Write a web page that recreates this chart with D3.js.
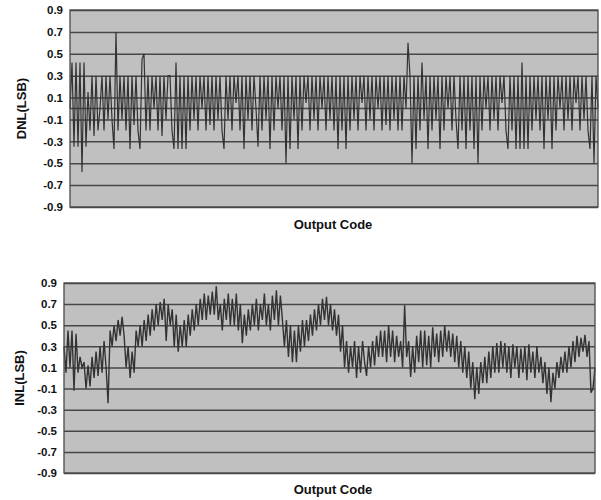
<!DOCTYPE html>
<html>
<head>
<meta charset="utf-8">
<script src="https://cdn.jsdelivr.net/npm/d3@7"></script>
<style>
  html, body { margin: 0; padding: 0; background: #fff; }
  svg text { font-family: "Liberation Sans", Arial, sans-serif; font-weight: bold; fill: #111; }
</style>
</head>
<body>
<svg id="chart" width="601" height="500"></svg>
<script>
// ---- data ----
const yTicks = [0.9, 0.7, 0.5, 0.3, 0.1, -0.1, -0.3, -0.5, -0.7, -0.9];
const yTickLabels = ["0.9", "0.7", "0.5", "0.3", "0.1", "-0.1", "-0.3", "-0.5", "-0.7", "-0.9"];
const dnlTitle = "DNL(LSB)";
const inlTitle = "INL(LSB)";
const xTitle = "Output Code";

const dnl = [
  0.0, 0.42, -0.35, 0.42, -0.35, 0.42, -0.58, 0.42, -0.35, 0.15,
  -0.2, 0.3, -0.25, 0.3, -0.2, 0.0, 0.3, -0.2, 0.3, -0.1,
  0.3, -0.1, -0.37, 0.7, -0.2, 0.3, -0.1, 0.3, -0.2, 0.3,
  -0.37, 0.3, -0.15, 0.3, -0.2, -0.37, 0.45, 0.5, -0.2, 0.3,
  -0.2, 0.3, 0.0, 0.3, -0.2, 0.3, -0.25, 0.3, -0.1, 0.3,
  0.3, -0.2, -0.37, 0.42, -0.37, 0.3, -0.37, 0.3, -0.37, 0.3,
  -0.2, 0.3, -0.1, 0.3, -0.2, 0.3, 0.0, 0.3, -0.2, 0.3,
  -0.15, 0.3, -0.2, 0.3, -0.1, 0.3, -0.2, -0.37, 0.3, -0.1,
  0.3, -0.2, 0.3, 0.05, 0.3, -0.2, 0.3, -0.37, 0.3, -0.1,
  0.3, -0.2, 0.3, 0.0, -0.35, 0.3, -0.2, 0.3, -0.1, 0.3,
  -0.37, 0.3, -0.2, 0.3, 0.0, 0.3, -0.2, 0.3, -0.5, 0.3,
  -0.37, 0.3, -0.1, 0.3, -0.37, 0.3, -0.2, 0.3, 0.05, 0.3,
  -0.2, 0.3, -0.1, 0.3, -0.2, 0.3, 0.0, 0.3, -0.2, 0.3,
  -0.1, 0.3, -0.2, 0.3, -0.37, 0.3, -0.2, 0.3, -0.37, 0.3,
  -0.2, 0.3, -0.1, 0.3, -0.2, 0.3, 0.05, 0.3, -0.2, 0.3,
  -0.1, 0.3, -0.2, 0.3, 0.0, 0.3, -0.2, 0.3, -0.15, 0.3,
  -0.2, 0.3, -0.1, 0.3, -0.2, 0.3, -0.2, 0.3, 0.0, 0.6,
  0.3, -0.5, 0.3, -0.37, 0.3, -0.2, 0.42, -0.1, 0.3, -0.37,
  0.3, -0.2, 0.3, -0.1, 0.3, -0.37, 0.3, -0.2, 0.3, 0.0,
  0.3, -0.2, 0.3, -0.1, -0.37, 0.3, -0.2, 0.3, -0.37, 0.3,
  -0.2, 0.3, -0.37, 0.3, -0.5, 0.3, -0.2, 0.3, 0.0, 0.3,
  -0.2, 0.3, -0.1, 0.3, -0.2, 0.3, 0.05, 0.3, -0.2, -0.37,
  0.3, -0.2, 0.3, -0.37, 0.3, -0.37, 0.42, -0.37, 0.3, -0.37,
  0.3, -0.2, 0.3, -0.1, 0.3, -0.2, 0.3, -0.37, 0.3, -0.1,
  0.3, -0.37, 0.3, -0.2, 0.3, 0.0, 0.3, -0.2, 0.3, -0.1,
  0.3, -0.2, 0.3, 0.05, 0.3, -0.2, 0.3, -0.1, 0.3, -0.2,
  -0.37, 0.3, -0.5, 0.3, 0.0
];

const inl = [
  0.3, 0.05, 0.45, 0.1, 0.45, -0.12, 0.42, 0.05, 0.2, 0.1,
  0.15, -0.1, 0.12, -0.08, 0.2, 0.0, 0.25, 0.02, 0.3, 0.05,
  0.35, 0.1, -0.24, 0.45, 0.3, 0.5, 0.35, 0.55, 0.4, 0.58,
  0.4, 0.1, 0.3, 0.0, 0.25, 0.05, 0.45, 0.3, 0.5, 0.3,
  0.55, 0.35, 0.6, 0.4, 0.65, 0.45, 0.7, 0.5, 0.72, 0.55,
  0.75, 0.35, 0.7, 0.5, 0.65, 0.3, 0.6, 0.25, 0.5, 0.3,
  0.55, 0.3, 0.6, 0.4, 0.65, 0.45, 0.7, 0.5, 0.75, 0.55,
  0.8, 0.55, 0.78, 0.6, 0.82, 0.6, 0.87, 0.55, 0.7, 0.45,
  0.75, 0.55, 0.8, 0.5, 0.75, 0.5, 0.8, 0.45, 0.7, 0.33,
  0.6, 0.4, 0.65, 0.45, 0.7, 0.5, 0.75, 0.45, 0.7, 0.55,
  0.8, 0.5, 0.7, 0.45, 0.78, 0.55, 0.83, 0.5, 0.78, 0.55,
  0.3, 0.55, 0.2, 0.5, 0.15, 0.45, 0.15, 0.5, 0.25, 0.55,
  0.3, 0.55, 0.35, 0.6, 0.4, 0.65, 0.45, 0.7, 0.5, 0.75,
  0.55, 0.77, 0.5, 0.7, 0.45, 0.65, 0.4, 0.6, 0.25, 0.5,
  0.1, 0.35, 0.05, 0.3, 0.1, 0.35, 0.0, 0.3, 0.05, 0.35,
  0.15, 0.02, 0.3, 0.1, 0.35, 0.12, 0.4, 0.2, 0.45, 0.2,
  0.45, 0.15, 0.5, 0.2, 0.45, 0.15, 0.4, 0.2, 0.35, 0.1,
  0.69, 0.2, 0.35, 0.01, 0.3, 0.05, 0.4, 0.15, 0.45, 0.1,
  0.45, 0.12, 0.4, 0.1, 0.48, 0.2, 0.42, 0.15, 0.45, 0.2,
  0.5, 0.25, 0.45, 0.2, 0.42, 0.15, 0.4, 0.1, 0.35, 0.05,
  0.3, 0.0, 0.25, -0.1, 0.15, -0.2, 0.1, -0.15, 0.15, -0.05,
  0.2, -0.05, 0.25, 0.0, 0.3, 0.05, 0.33, 0.05, 0.35, 0.1,
  0.33, 0.05, 0.3, 0.0, 0.32, 0.1, 0.3, 0.0, 0.28, 0.05,
  0.3, -0.02, 0.32, 0.05, 0.25, 0.0, 0.3, 0.05, 0.2, -0.05,
  0.15, -0.15, 0.1, -0.23, 0.05, -0.1, 0.15, 0.0, 0.2, 0.05,
  0.25, 0.05, 0.3, 0.1, 0.35, 0.15, 0.4, 0.2, 0.38, 0.25,
  0.41, 0.2, 0.35, -0.14, -0.1, 0.1
];

// ---- drawing ----
const svg = d3.select("#chart");

function panel(cfg) {
  const { data, left, right, top, bottom, title, zeroLine, titleY, yTitleX, lineW } = cfg;
  const g = svg.append("g");
  const x = d3.scaleLinear().domain([0, data.length - 1]).range([left, right]);
  const y = d3.scaleLinear().domain([-0.9, 0.9]).range([bottom, top]);

  g.append("rect")
    .attr("x", left).attr("y", top)
    .attr("width", right - left).attr("height", bottom - top)
    .attr("fill", "#c0c0c0");

  // grid lines
  const grid = g.append("g")
    .attr("transform", `translate(${left},0)`)
    .call(d3.axisLeft(y).tickValues(yTicks).tickSize(-(right - left)).tickFormat(""));
  grid.select(".domain").remove();
  grid.selectAll(".tick line").attr("stroke", "#474747").attr("stroke-width", 1.5);

  if (zeroLine) {
    g.append("line")
      .attr("x1", left).attr("x2", right)
      .attr("y1", y(0)).attr("y2", y(0))
      .attr("stroke", "#474747").attr("stroke-width", 1.5);
  }

  // data line
  g.append("path")
    .datum(data)
    .attr("fill", "none")
    .attr("stroke", "#333")
    .attr("stroke-width", lineW)
    .attr("stroke-linejoin", "miter")
    .attr("d", d3.line().x((d, i) => x(i)).y(d => y(d)));

  // frame
  g.append("rect")
    .attr("x", left).attr("y", top)
    .attr("width", right - left).attr("height", bottom - top)
    .attr("fill", "none").attr("stroke", "#4a4a4a").attr("stroke-width", 1.3);

  // y axis labels
  const ax = g.append("g")
    .attr("transform", `translate(${left - 7},0)`)
    .call(d3.axisLeft(y).tickValues(yTicks).tickSize(0)
      .tickFormat((d, i) => yTickLabels[i]));
  ax.select(".domain").remove();
  ax.selectAll(".tick text")
    .attr("x", 0)
    .style("font-family", '"Liberation Sans", Arial, sans-serif')
    .style("font-weight", "bold")
    .style("font-size", "11.5px")
    .attr("fill", "#111");

  // titles
  g.append("text")
    .attr("transform", `translate(${yTitleX},${(top + bottom) / 2}) rotate(-90)`)
    .attr("text-anchor", "middle")
    .attr("dy", "0.35em")
    .style("font-size", "13px")
    .text(title);

  g.append("text")
    .attr("x", 333).attr("y", titleY)
    .attr("text-anchor", "middle")
    .style("font-size", "13px")
    .text(xTitle);
}

panel({ data: dnl, left: 70, right: 598, top: 10, bottom: 207, title: dnlTitle, zeroLine: true, titleY: 229, yTitleX: 21, lineW: 1.2 });
panel({ data: inl, left: 64, right: 595, top: 283, bottom: 473, title: inlTitle, zeroLine: false, titleY: 494, yTitleX: 19, lineW: 1.4 });
</script>
</body>
</html>
